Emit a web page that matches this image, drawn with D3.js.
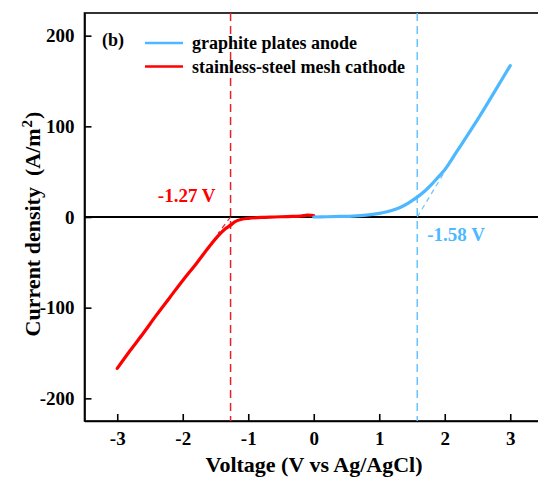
<!DOCTYPE html>
<html>
<head>
<meta charset="utf-8">
<script src="https://cdn.jsdelivr.net/npm/d3@7"></script>
<style>
  body { margin: 0; background: #fff; }
  svg { display: block; font-family: "Liberation Serif", "Times New Roman", serif; font-weight: bold; }
</style>
</head>
<body>
<div id="chart"></div>
<script>
// anode sweep (graphite plates)
var anodeV = [0, 0.2, 0.4, 0.6, 0.8, 1.0, 1.1, 1.2, 1.3, 1.4, 1.5, 1.6, 1.7, 1.8, 1.9, 2.0, 2.2, 2.4, 2.6, 2.8, 3.0];
var anodeJ = [0, 0.3, 0.6, 1, 2, 4, 5.5, 7.5, 10, 13.5, 18, 23, 29, 36, 44, 52, 74, 96, 119, 143, 167];

// cathode sweep (stainless-steel mesh)
var cathodeV = [0, -0.1, -0.2, -0.4, -0.6, -0.8, -1.0, -1.1, -1.2, -1.27, -1.35, -1.45, -1.6, -1.8, -2.0, -2.2, -2.4, -2.6, -2.8, -3.0];
var cathodeJ = [1.5, 2, 1, 0.5, 0, -0.5, -1.5, -2.5, -5, -9, -13, -20, -33, -52, -70, -89, -108, -128, -147, -167];

// onset potentials and the tangents used to find them
var onsetV = [-1.27, 1.58];
var onsetLabels = ['-1.27 V', '-1.58 V'];
var cathodeTangent = [[-1.27, 0], [-1.46, -18]];
var anodeTangent = [[1.58, 0], [2.0, 50]];

var xTicks = [-3, -2, -1, 0, 1, 2, 3];
var yTicks = [-200, -100, 0, 100, 200];

var blue = '#4db8ff';
var red = '#ff0000';

var width = 538, height = 479;
var margin = {top: 13, left: 84.5, bottom: 58};

var svg = d3.select('#chart').append('svg')
    .attr('width', width)
    .attr('height', height);

var x = d3.scaleLinear().domain([-3.5, 3.5]).range([margin.left, margin.left + 458.5]);
var y = d3.scaleLinear().domain([-225, 225]).range([height - margin.bottom, margin.top]);

// plain hyphen for negatives, like the original
var fmt = d => String(d);

// frame
svg.append('rect')
    .attr('x', x(-3.5)).attr('y', y(225))
    .attr('width', x(3.5) - x(-3.5)).attr('height', y(-225) - y(225))
    .attr('fill', 'none').attr('stroke', '#000').attr('stroke-width', 1.6);

var xAxis = d3.axisBottom(x).tickValues(xTicks).tickSizeInner(-7).tickSizeOuter(0).tickPadding(11)
    .tickFormat(fmt);
var yAxis = d3.axisLeft(y).tickValues(yTicks).tickSizeInner(-7).tickSizeOuter(0).tickPadding(10)
    .tickFormat(fmt);

var gx = svg.append('g').attr('transform', `translate(0,${y(-225)})`).call(xAxis);
var gy = svg.append('g').attr('transform', `translate(${x(-3.5)},0)`).call(yAxis);

[gx, gy].forEach(function(g) {
    g.select('.domain').attr('stroke', '#000').attr('stroke-width', 1.6);
    g.selectAll('.tick line').attr('stroke', '#000').attr('stroke-width', 1.6);
    g.selectAll('.tick text').attr('fill', '#000')
        .style('font-size', '19px').style('font-weight', 'bold')
        .style('font-family', '"Liberation Serif", serif');
});

// zero line
svg.append('line')
    .attr('x1', x(-3.5)).attr('x2', x(3.5))
    .attr('y1', y(0)).attr('y2', y(0))
    .attr('stroke', '#000').attr('stroke-width', 2);

// onset dashed verticals
svg.selectAll('.onset')
    .data(onsetV)
    .enter().append('line')
    .attr('class', 'onset')
    .attr('x1', d => x(d))
    .attr('x2', d => x(d))
    .attr('y1', y(225)).attr('y2', y(-225))
    .attr('stroke', (d, i) => i === 0 ? '#e8202a' : '#66c4ff')
    .attr('stroke-width', 1.5)
    .attr('stroke-dasharray', '8,5');

var line = d3.line()
    .x(d => x(d[0]))
    .y(d => y(d[1]))
    .curve(d3.curveCatmullRom);

var straight = d3.line().x(d => x(d[0])).y(d => y(d[1]));

// tangents
svg.append('path').datum(cathodeTangent)
    .attr('d', straight)
    .attr('fill', 'none').attr('stroke', '#e8202a').attr('stroke-width', 1.2)
    .attr('stroke-dasharray', '5,4');
svg.append('path').datum(anodeTangent)
    .attr('d', straight)
    .attr('fill', 'none').attr('stroke', '#66c4ff').attr('stroke-width', 1.2)
    .attr('stroke-dasharray', '5,4');

// curves
svg.append('path').datum(d3.zip(cathodeV, cathodeJ))
    .attr('d', line)
    .attr('fill', 'none').attr('stroke', red).attr('stroke-width', 3.2)
    .attr('stroke-linecap', 'round').attr('stroke-linejoin', 'round');

svg.append('path').datum(d3.zip(anodeV, anodeJ))
    .attr('d', line)
    .attr('fill', 'none').attr('stroke', blue).attr('stroke-width', 3.2)
    .attr('stroke-linecap', 'round').attr('stroke-linejoin', 'round');

// onset labels
svg.append('text')
    .attr('x', x(-1.27) - 15).attr('y', y(0) - 15)
    .attr('text-anchor', 'end')
    .attr('fill', red)
    .style('font-size', '19px')
    .text(onsetLabels[0]);
svg.append('text')
    .attr('x', x(1.58) + 10).attr('y', y(0) + 24)
    .attr('fill', blue)
    .style('font-size', '19px')
    .text(onsetLabels[1]);

// panel label + legend
svg.append('text')
    .attr('x', 102).attr('y', 46)
    .style('font-size', '18px')
    .text('(b)');

var legend = [
    {name: 'graphite plates anode', color: blue},
    {name: 'stainless-steel mesh cathode', color: red}
];
var lg = svg.selectAll('.legend')
    .data(legend)
    .enter().append('g')
    .attr('class', 'legend')
    .attr('transform', (d, i) => `translate(145,${43 + i * 23.5})`);
lg.append('line')
    .attr('x1', 0).attr('x2', 38)
    .attr('stroke', d => d.color).attr('stroke-width', 2.5);
lg.append('text')
    .attr('x', 47).attr('y', 6)
    .style('font-size', '18px')
    .text(d => d.name);

// axis titles
svg.append('text')
    .attr('x', 314).attr('y', 472)
    .attr('text-anchor', 'middle')
    .style('font-size', '22px')
    .text('Voltage (V vs Ag/AgCl)');

var yt = svg.append('text')
    .attr('transform', 'translate(40,224) rotate(-90)')
    .attr('text-anchor', 'middle')
    .style('font-size', '22px')
    .style('white-space', 'pre');
yt.append('tspan').text('Current density  (A/m');
yt.append('tspan').attr('dy', -8).attr('dx', 1).style('font-size', '15px').text('2');
yt.append('tspan').attr('dy', 8).attr('dx', 1).text(')');
</script>
</body>
</html>
